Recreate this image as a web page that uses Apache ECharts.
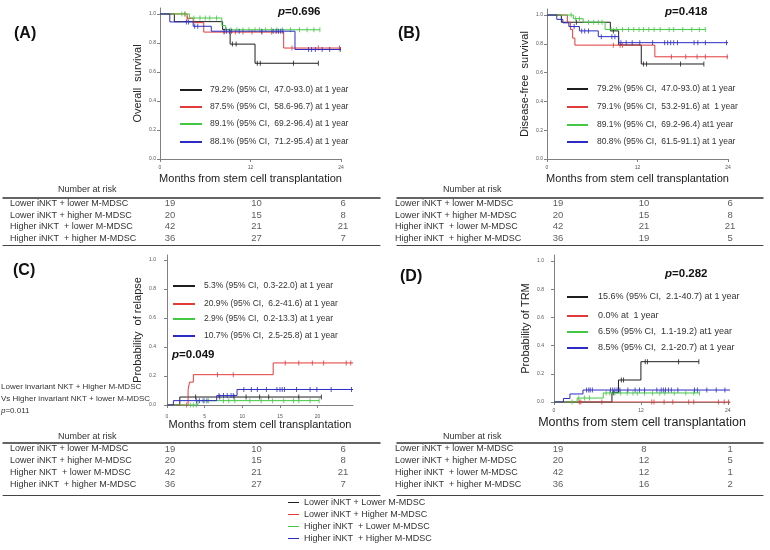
<!DOCTYPE html>
<html><head><meta charset="utf-8">
<script src="https://cdn.jsdelivr.net/npm/echarts@6/dist/echarts.min.js"></script>
<style>html,body{margin:0;padding:0;background:#fff}#c{width:770px;height:550px}</style>
</head><body><div id="c"></div>
<script>
// ---------- DATA ----------
const groupNames = ['Lower iNKT + Lower M-MDSC','Lower iNKT + Higher M-MDSC','Higher iNKT  + Lower M-MDSC','Higher iNKT  + Higher M-MDSC'];

// Kaplan-Meier steps [month, value] per group (black, red, green, blue)
const osSteps = [
  [[0,1],[1.9,0.947],[8.3,0.893],[9.3,0.792],[12.6,0.66],[21.0,0.66]],
  [[0,1],[3.6,0.97],[4.4,0.94],[5.8,0.875],[16.4,0.765],[24,0.765]],
  [[0,1],[3.9,0.972],[8.2,0.92],[8.7,0.891],[21.2,0.891]],
  [[0,1],[1.3,0.945],[4.4,0.915],[6.8,0.881],[17.9,0.755],[24,0.755]]
];
const osCensor = [
  [9.6,10.1,12.9,13.3,17.7,21.0],
  [3.3,3.6,8.5,9.3,10.0,11.0,12.2,13.5,14.8,17.5,21.0,23.8],
  [2.9,3.3,4.5,5.3,6.0,6.6,7.5,8.8,9.4,10.2,11.0,11.8,12.6,13.2,14.0,14.8,15.5,16.2,17.3,18.5,19.5,20.4,21.2],
  [3.5,3.8,4.6,5.0,8.5,8.8,9.2,9.5,10.5,13.5,15.0,15.4,15.7,16.0,16.3,19.7,20.1,20.6,21.5,22.5,23.9]
];
const dfsSteps = [
  [[0,1],[1.9,0.95],[8.4,0.89],[9.5,0.792],[12.5,0.66],[20.8,0.66]],
  [[0,1],[2.7,0.95],[3.1,0.9],[3.4,0.84],[3.7,0.791],[14.3,0.71],[24,0.71]],
  [[0,1],[3.5,0.975],[4.8,0.95],[7.7,0.9],[21.0,0.9]],
  [[0,1],[1.3,0.97],[2.1,0.946],[2.9,0.92],[4.3,0.89],[6.8,0.85],[9.5,0.808],[24,0.808]]
];
const dfsCensor = [
  [3.9,8.8,12.8,13.2,17.7,20.8],
  [8.8,9.7,10.0,16.5,18.4,19.9,21.0,23.9],
  [3.2,3.8,4.3,5.5,6.2,6.8,7.3,8.5,9.2,10.0,10.8,11.5,12.2,12.8,13.5,14.2,15.0,16.2,16.8,18.0,19.2,20.2,21.0],
  [3.6,4.6,5.0,5.5,7.2,8.6,9.0,9.8,10.5,11.3,12.3,14.0,15.6,16.0,16.4,16.8,17.3,19.5,20.0,21.0,23.8]
];
const relSteps = [
  [[0,0],[1.7,0.055],[20.5,0.055]],
  [[0,0],[2.8,0.105],[3.0,0.158],[3.5,0.209],[14.1,0.29],[24.7,0.29]],
  [[0,0],[4.1,0.03],[20.2,0.03]],
  [[0,0],[0.85,0.03],[6.6,0.065],[9.3,0.107],[24.7,0.107]]
];
const relCensor = [
  [3.8,7.0,8.9,10.5,12.3,13.5,17.5,20.5],
  [2.6,6.7,8.8,15.7,17.5,19.3,20.8,23.8,24.4],
  [3.1,3.5,3.9,5.0,5.5,7.5,8.2,9.0,11.0,12.5,14.0,15.5,16.8,17.5,19.0,20.2],
  [3.9,4.3,4.8,5.3,6.9,7.5,8.0,8.5,8.8,10.2,11.2,12.0,13.2,14.6,15.0,15.3,15.6,17.2,19.0,19.9,21.8,24.5]
];
const trmSteps = [
  [[0,0],[8.0,0.066],[8.9,0.156],[12.0,0.286],[20.0,0.286]],
  [[0,0],[24.3,0]],
  [[0,0],[3.2,0.028],[6.8,0.064],[20.1,0.064]],
  [[0,0],[1.3,0.025],[2.2,0.057],[4.0,0.085],[24.3,0.085]]
];
const trmCensor = [
  [8.2,9.3,9.6,12.6,12.9,17.2,20.0],
  [3.5,3.7,6.6,13.5,13.8,15.2,16.4,18.6,19.3,22.7,23.5,24.1],
  [2.5,3.4,4.2,4.9,7.2,7.7,8.4,9.2,10.1,10.9,11.5,12.5,13.6,14.6,15.3,16.6,18.2,19.3,20.1],
  [4.5,4.8,5.0,5.3,7.8,8.1,8.4,8.7,9.1,10.2,11.2,11.8,12.5,14.2,14.8,15.1,15.4,15.8,16.2,17.1,19.4,19.8,21.1,22.4,23.6]
];

const osLegend = ['79.2% (95% CI,  47.0-93.0) at 1 year','87.5% (95% CI,  58.6-96.7) at 1 year','89.1% (95% CI,  69.2-96.4) at 1 year','88.1% (95% CI,  71.2-95.4) at 1 year'];
const dfsLegend = ['79.2% (95% CI,  47.0-93.0) at 1 year','79.1% (95% CI,  53.2-91.6) at  1 year','89.1% (95% CI,  69.2-96.4) at1 year','80.8% (95% CI,  61.5-91.1) at 1 year'];
const relLegend = ['5.3% (95% CI,  0.3-22.0) at 1 year','20.9% (95% CI,  6.2-41.6) at 1 year','2.9% (95% CI,  0.2-13.3) at 1 year','10.7% (95% CI,  2.5-25.8) at 1 year'];
const trmLegend = ['15.6% (95% CI,  2.1-40.7) at 1 year','0.0% at  1 year','6.5% (95% CI,  1.1-19.2) at1 year','8.5% (95% CI,  2.1-20.7) at 1 year'];
const pValues = ['0.696','0.418','0.049','0.282'];

const yTicks = [0,0.2,0.4,0.6,0.8,1.0];
const xTicksMonths = [0,12,24];
const xTicksRelapse = [0,5,10,15,20];

const riskTimes = [0,12,24];
const riskRowsStd = ['Lower iNKT + lower M-MDSC','Lower iNKT + higher M-MDSC','Higher iNKT  + lower M-MDSC','Higher iNKT  + higher M-MDSC'];
const riskRowsC = ['Lower iNKT + lower M-MDSC','Lower iNKT + higher M-MDSC','Higher NKT  + lower M-MDSC','Higher iNKT  + higher M-MDSC'];
const riskA = [[19,10,6],[20,15,8],[42,21,21],[36,27,7]];
const riskB = [[19,10,6],[20,15,8],[42,21,21],[36,19,5]];
const riskC = [[19,10,6],[20,15,8],[42,21,21],[36,27,7]];
const riskD = [[19,8,1],[20,12,5],[42,12,1],[36,16,2]];

// ---------- STYLE / LAYOUT ----------
const FONT = '"Liberation Sans", Arial, sans-serif';
const colors = ['#1e1e1e','#e03a3a','#44c844','#2c2cc4'];
const panels = [
  {label:'(A)', steps:osSteps, censor:osCensor, legend:osLegend, xTicks:xTicksMonths, grid:{left:160,top:8,width:181,height:151}, xMax:24, yMax:1.041, xOff:4, yOff:0, yName:'Overall  survival', xNameGap:10, xNameSize:11,
   lab:[14,35], pv:[278,13], lg:{x0:180,x1:202,tx:210,ys:[90,107,124,142]}},
  {label:'(B)', steps:dfsSteps, censor:dfsCensor, legend:dfsLegend, xTicks:xTicksMonths, grid:{left:547,top:9,width:181,height:150}, xMax:24, yMax:1.042, xOff:4, yOff:0, yName:'Disease-free  survival', xNameGap:10, xNameSize:11,
   lab:[398,35], pv:[665,13], lg:{x0:567,x1:588,tx:597,ys:[89,107,125,142]}},
  {label:'(C)', steps:relSteps, censor:relCensor, legend:relLegend, xTicks:xTicksRelapse, grid:{left:167,top:255,width:186,height:150}, xMax:24.7, yMax:1.034, xOff:7, yOff:7, yName:'Probability  of relapse', xNameGap:5, xNameSize:11,
   lab:[13,272], pv:[172,356], lg:{x0:173,x1:195,tx:204,ys:[286,304,319,336]}},
  {label:'(D)', steps:trmSteps, censor:trmCensor, legend:trmLegend, xTicks:xTicksMonths, grid:{left:554,top:255,width:176,height:147}, xMax:24.3, yMax:1.043, xOff:4, yOff:6, yName:'Probability of TRM', xNameGap:10, xNameSize:12.5,
   lab:[400,278], pv:[665,275], lg:{x0:567,x1:588,tx:598,ys:[297,316,332,348]}}
];
const tables = [
  {rows:riskRowsStd, vals:riskA, grid:{left:3,top:198,width:377,height:46}, min:-23.17, max:29.13, botOff:1, labMargin:-7, head:[86,190]},
  {rows:riskRowsStd, vals:riskB, grid:{left:397,top:198,width:366,height:46}, min:-22.46, max:28.6, botOff:1, labMargin:2, head:[471,190]},
  {rows:riskRowsC, vals:riskC, grid:{left:3,top:443,width:377,height:47}, min:-23.17, max:29.13, botOff:5, labMargin:-7, head:[86,437]},
  {rows:riskRowsStd, vals:riskD, grid:{left:397,top:443,width:366,height:47}, min:-22.46, max:28.6, botOff:5, labMargin:2, head:[471,437]}
];

function stepValue(steps, t){
  let v = steps[0][1];
  for (const p of steps){ if (p[0] <= t) v = p[1]; }
  return v;
}

const grid = [], xAxis = [], yAxis = [], series = [], graphic = [];
const axisCol = '#808080';

panels.forEach((p, i) => {
  grid.push(Object.assign({containLabel:false}, p.grid));
  xAxis.push({type:'value', gridIndex:i, min:0, max:p.xMax, offset:p.xOff,
    name:'Months from stem cell transplantation', nameLocation:'middle', nameGap:p.xNameGap,
    nameTextStyle:{fontSize:p.xNameSize, color:'#222', fontFamily:FONT},
    axisLine:{lineStyle:{color:axisCol, width:1}},
    axisTick:{length:3, lineStyle:{color:axisCol}, customValues:p.xTicks},
    axisLabel:{fontSize:5, color:'#555', margin:2, fontFamily:FONT, customValues:p.xTicks}, splitLine:{show:false}});
  yAxis.push({type:'value', gridIndex:i, min:0, max:p.yMax, offset:p.yOff,
    name:p.yName, nameLocation:'middle', nameGap:17, nameRotate:90,
    nameTextStyle:{fontSize:11, color:'#222', fontFamily:FONT},
    axisLine:{show:true, lineStyle:{color:axisCol, width:1}},
    axisTick:{show:true, length:3, lineStyle:{color:axisCol}, customValues:yTicks},
    axisLabel:{fontSize:5, color:'#555', margin:4, fontFamily:FONT, customValues:yTicks, formatter:v => Number(v).toFixed(1)}, splitLine:{show:false}});
  p.steps.forEach((st, g) => {
    series.push({type:'line', name:groupNames[g], xAxisIndex:i, yAxisIndex:i, step:'end', data:st,
      showSymbol:false, symbol:'none', lineStyle:{width:1, color:colors[g]}, itemStyle:{color:colors[g]}, z:3+g});
    series.push({type:'scatter', name:groupNames[g], xAxisIndex:i, yAxisIndex:i,
      data:p.censor[g].map(t => [t, stepValue(st, t)]),
      symbol:'rect', symbolSize:[1,5], itemStyle:{color:colors[g]}, z:3+g});
  });
  graphic.push({type:'text', left:p.lab[0], top:p.lab[1]-9, style:{text:p.label, font:'bold 16px '+FONT, fill:'#111'}});
  graphic.push({type:'text', left:p.pv[0], top:p.pv[1]-7, style:{text:'{i|p}{b|='+pValues[i]+'}',
    rich:{i:{fontStyle:'italic', fontWeight:'bold', fontSize:11.5, fontFamily:FONT, fill:'#111'}, b:{fontWeight:'bold', fontSize:11.5, fontFamily:FONT, fill:'#111'}}}});
  p.legend.forEach((t, g) => {
    graphic.push({type:'line', shape:{x1:p.lg.x0, y1:p.lg.ys[g], x2:p.lg.x1, y2:p.lg.ys[g]}, style:{stroke:colors[g], lineWidth:2}});
    graphic.push({type:'text', left:p.lg.tx, top:p.lg.ys[g]-5, style:{text:t, font:(i===3?'9px ':'8.5px ')+FONT, fill:'#333'}});
  });
});

tables.forEach((tb, k) => {
  const gi = 4 + k;
  grid.push(Object.assign({containLabel:false}, tb.grid));
  xAxis.push({type:'value', gridIndex:gi, position:'top', min:tb.min, max:tb.max,
    axisLine:{show:true, lineStyle:{color:'#333', width:1.5}}, axisTick:{show:false}, axisLabel:{show:false}, splitLine:{show:false}});
  xAxis.push({type:'value', gridIndex:gi, position:'bottom', offset:tb.botOff, min:tb.min, max:tb.max,
    axisLine:{show:true, lineStyle:{color:'#444', width:1}}, axisTick:{show:false}, axisLabel:{show:false}, splitLine:{show:false}});
  yAxis.push({type:'category', gridIndex:gi, data:tb.rows, inverse:true,
    axisLine:{show:false}, axisTick:{show:false},
    axisLabel:{interval:0, align:'left', margin:tb.labMargin, fontSize:9, color:'#333', fontFamily:FONT}, splitLine:{show:false}});
  const data = [];
  tb.vals.forEach((row, r) => row.forEach((v, c) => data.push([riskTimes[c], tb.rows[r], v])));
  series.push({type:'scatter', name:'risk'+k, xAxisIndex:4+2*k, yAxisIndex:gi, data, symbolSize:0,
    label:{show:true, position:'inside', formatter:d => String(d.value[2]), fontSize:9.5, color:'#333', fontFamily:FONT}});
  graphic.push({type:'text', left:tb.head[0]-28, top:tb.head[1]-5, style:{text:'Number at risk', font:'9px '+FONT, fill:'#333'}});
});

graphic.push({type:'text', left:1, top:383, style:{text:'Lower invariant NKT + Higher M-MDSC', font:'8px '+FONT, fill:'#333'}});
graphic.push({type:'text', left:1, top:395, style:{text:'Vs Higher invariant NKT + lower M-MDSC', font:'8px '+FONT, fill:'#333'}});
graphic.push({type:'text', left:1, top:407, style:{text:'{i|p}{b|=0.011}', rich:{i:{fontStyle:'italic', fontSize:8, fontFamily:FONT, fill:'#333'}, b:{fontSize:8, fontFamily:FONT, fill:'#333'}}}});

const chart = echarts.init(document.getElementById('c'), null, {renderer:'canvas'});
chart.setOption({
  animation:false,
  backgroundColor:'#fff',
  grid, xAxis, yAxis, series, graphic,
  legend:{data:groupNames, orient:'vertical', left:288, top:498, icon:'rect', itemWidth:11, itemHeight:1, itemGap:3, padding:0,
    textStyle:{fontSize:9, color:'#333', fontFamily:FONT}, selectedMode:false}
});
</script>
</body></html>
